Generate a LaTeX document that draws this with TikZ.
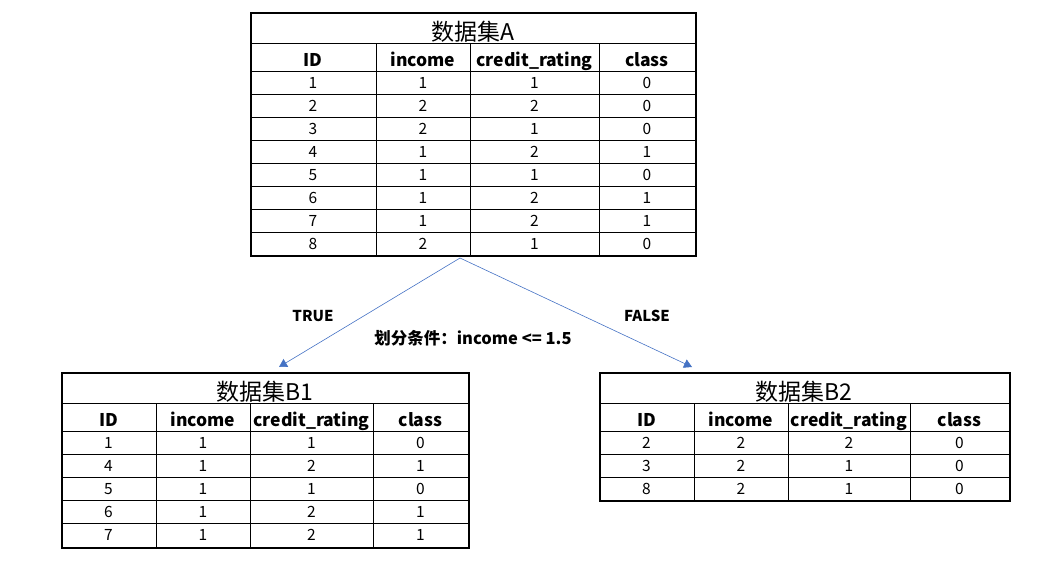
\documentclass[tikz,border=0pt]{standalone}
\usepackage{fontspec}
\setmainfont{Noto Sans CJK SC}
\usetikzlibrary{arrows.meta, positioning}
\definecolor{linkblue}{RGB}{68,114,196}

\begin{document}
\begin{tikzpicture}[
    x=1pt, y=-1pt,
    >={Triangle[length=8pt, width=9pt]},
    frame/.style={draw, line width=1.6pt, inner sep=0pt, anchor=north west},
    grid/.style={line width=0.8pt},
    title/.style={anchor=base, font=\fontsize{23}{23}\selectfont},
    head/.style={anchor=base, font=\bfseries\fontsize{17.5}{17.5}\selectfont},
    cell/.style={anchor=base, font=\fontsize{15.5}{15.5}\selectfont},
    tag/.style={anchor=base, font=\bfseries\fontsize{15}{15}\selectfont},
    link/.style={->, draw=linkblue, line width=0.6pt}
  ]
  \useasboundingbox (0,0) rectangle (1043,560);

  % --- dataset A ---
  \node[frame, minimum width=445pt, minimum height=243pt] (tabA) at (250,12) {};
  \draw[grid] (250,43) -- (695,43);
  \foreach \k in {0,...,7} \draw[grid] (250,71+23*\k) -- (695,71+23*\k);
  \foreach \x in {376,470,599} \draw[grid] (\x,43) -- (\x,255);
  \node[title] (titleA) at (472.5,40) {数据集A};
  \foreach \x/\t [count=\c] in {313/ID, 423/income, 534.5/credit\_rating, 647/class}
    \node[head] (A-0-\c) at (\x,66.5) {\t};
  \foreach \rid/\rinc/\rcred/\rcls [count=\k] in
      {1/1/1/0, 2/2/2/0, 3/2/1/0, 4/1/2/1, 5/1/1/0, 6/1/2/1, 7/1/2/1, 8/2/1/0} {
    \node[cell] (A-\k-1) at (313,65.5+23*\k)   {\rid};
    \node[cell] (A-\k-2) at (423,65.5+23*\k)   {\rinc};
    \node[cell] (A-\k-3) at (534.5,65.5+23*\k) {\rcred};
    \node[cell] (A-\k-4) at (647,65.5+23*\k)   {\rcls};
  }

  % --- dataset B1 ---
  \node[frame, minimum width=407pt, minimum height=175pt] (tabB1) at (61,372) {};
  \draw[grid] (61,403) -- (468,403);
  \foreach \k in {0,...,4} \draw[grid] (61,431+23.2*\k) -- (468,431+23.2*\k);
  \foreach \x in {156,250,373} \draw[grid] (\x,403) -- (\x,547);
  \node[title] (titleB1) at (264.5,400) {数据集B1};
  \foreach \x/\t [count=\c] in {108.5/ID, 203/income, 311.5/credit\_rating, 420.5/class}
    \node[head] (B1-0-\c) at (\x,426.5) {\t};
  \foreach \rid/\rinc/\rcred/\rcls [count=\k] in
      {1/1/1/0, 4/1/2/1, 5/1/1/0, 6/1/2/1, 7/1/2/1} {
    \node[cell] (B1-\k-1) at (108.5,424.8+23.2*\k) {\rid};
    \node[cell] (B1-\k-2) at (203,424.8+23.2*\k)   {\rinc};
    \node[cell] (B1-\k-3) at (311.5,424.8+23.2*\k) {\rcred};
    \node[cell] (B1-\k-4) at (420.5,424.8+23.2*\k) {\rcls};
  }

  % --- dataset B2 ---
  \node[frame, minimum width=410pt, minimum height=128pt] (tabB2) at (599,372) {};
  \draw[grid] (599,403) -- (1009,403);
  \foreach \k in {0,...,2} \draw[grid] (599,431+23*\k) -- (1009,431+23*\k);
  \foreach \x in {694,788,910} \draw[grid] (\x,403) -- (\x,500);
  \node[title] (titleB2) at (804,400) {数据集B2};
  \foreach \x/\t [count=\c] in {646.5/ID, 741/income, 849/credit\_rating, 959.5/class}
    \node[head] (B2-0-\c) at (\x,426.5) {\t};
  \foreach \rid/\rinc/\rcred/\rcls [count=\k] in
      {2/2/2/0, 3/2/1/0, 8/2/1/0} {
    \node[cell] (B2-\k-1) at (646.5,425+23*\k) {\rid};
    \node[cell] (B2-\k-2) at (741,425+23*\k)   {\rinc};
    \node[cell] (B2-\k-3) at (849,425+23*\k)   {\rcred};
    \node[cell] (B2-\k-4) at (959.5,425+23*\k) {\rcls};
  }

  % --- split ---
  \coordinate (split) at (460,258);
  \coordinate (toB1)  at (279,367);
  \coordinate (toB2)  at (692,367);
  \draw[link] (split) -- (toB1);
  \draw[link] (split) -- (toB2);
  \node[tag] (true)  at (313,321) {TRUE};
  \node[tag] (false) at (647,321) {FALSE};
  \node[tag, font=\bfseries\fontsize{16.5}{16.5}\selectfont] (cond) at (473,344) {划分条件：income <= 1.5};
\end{tikzpicture}
\end{document}
